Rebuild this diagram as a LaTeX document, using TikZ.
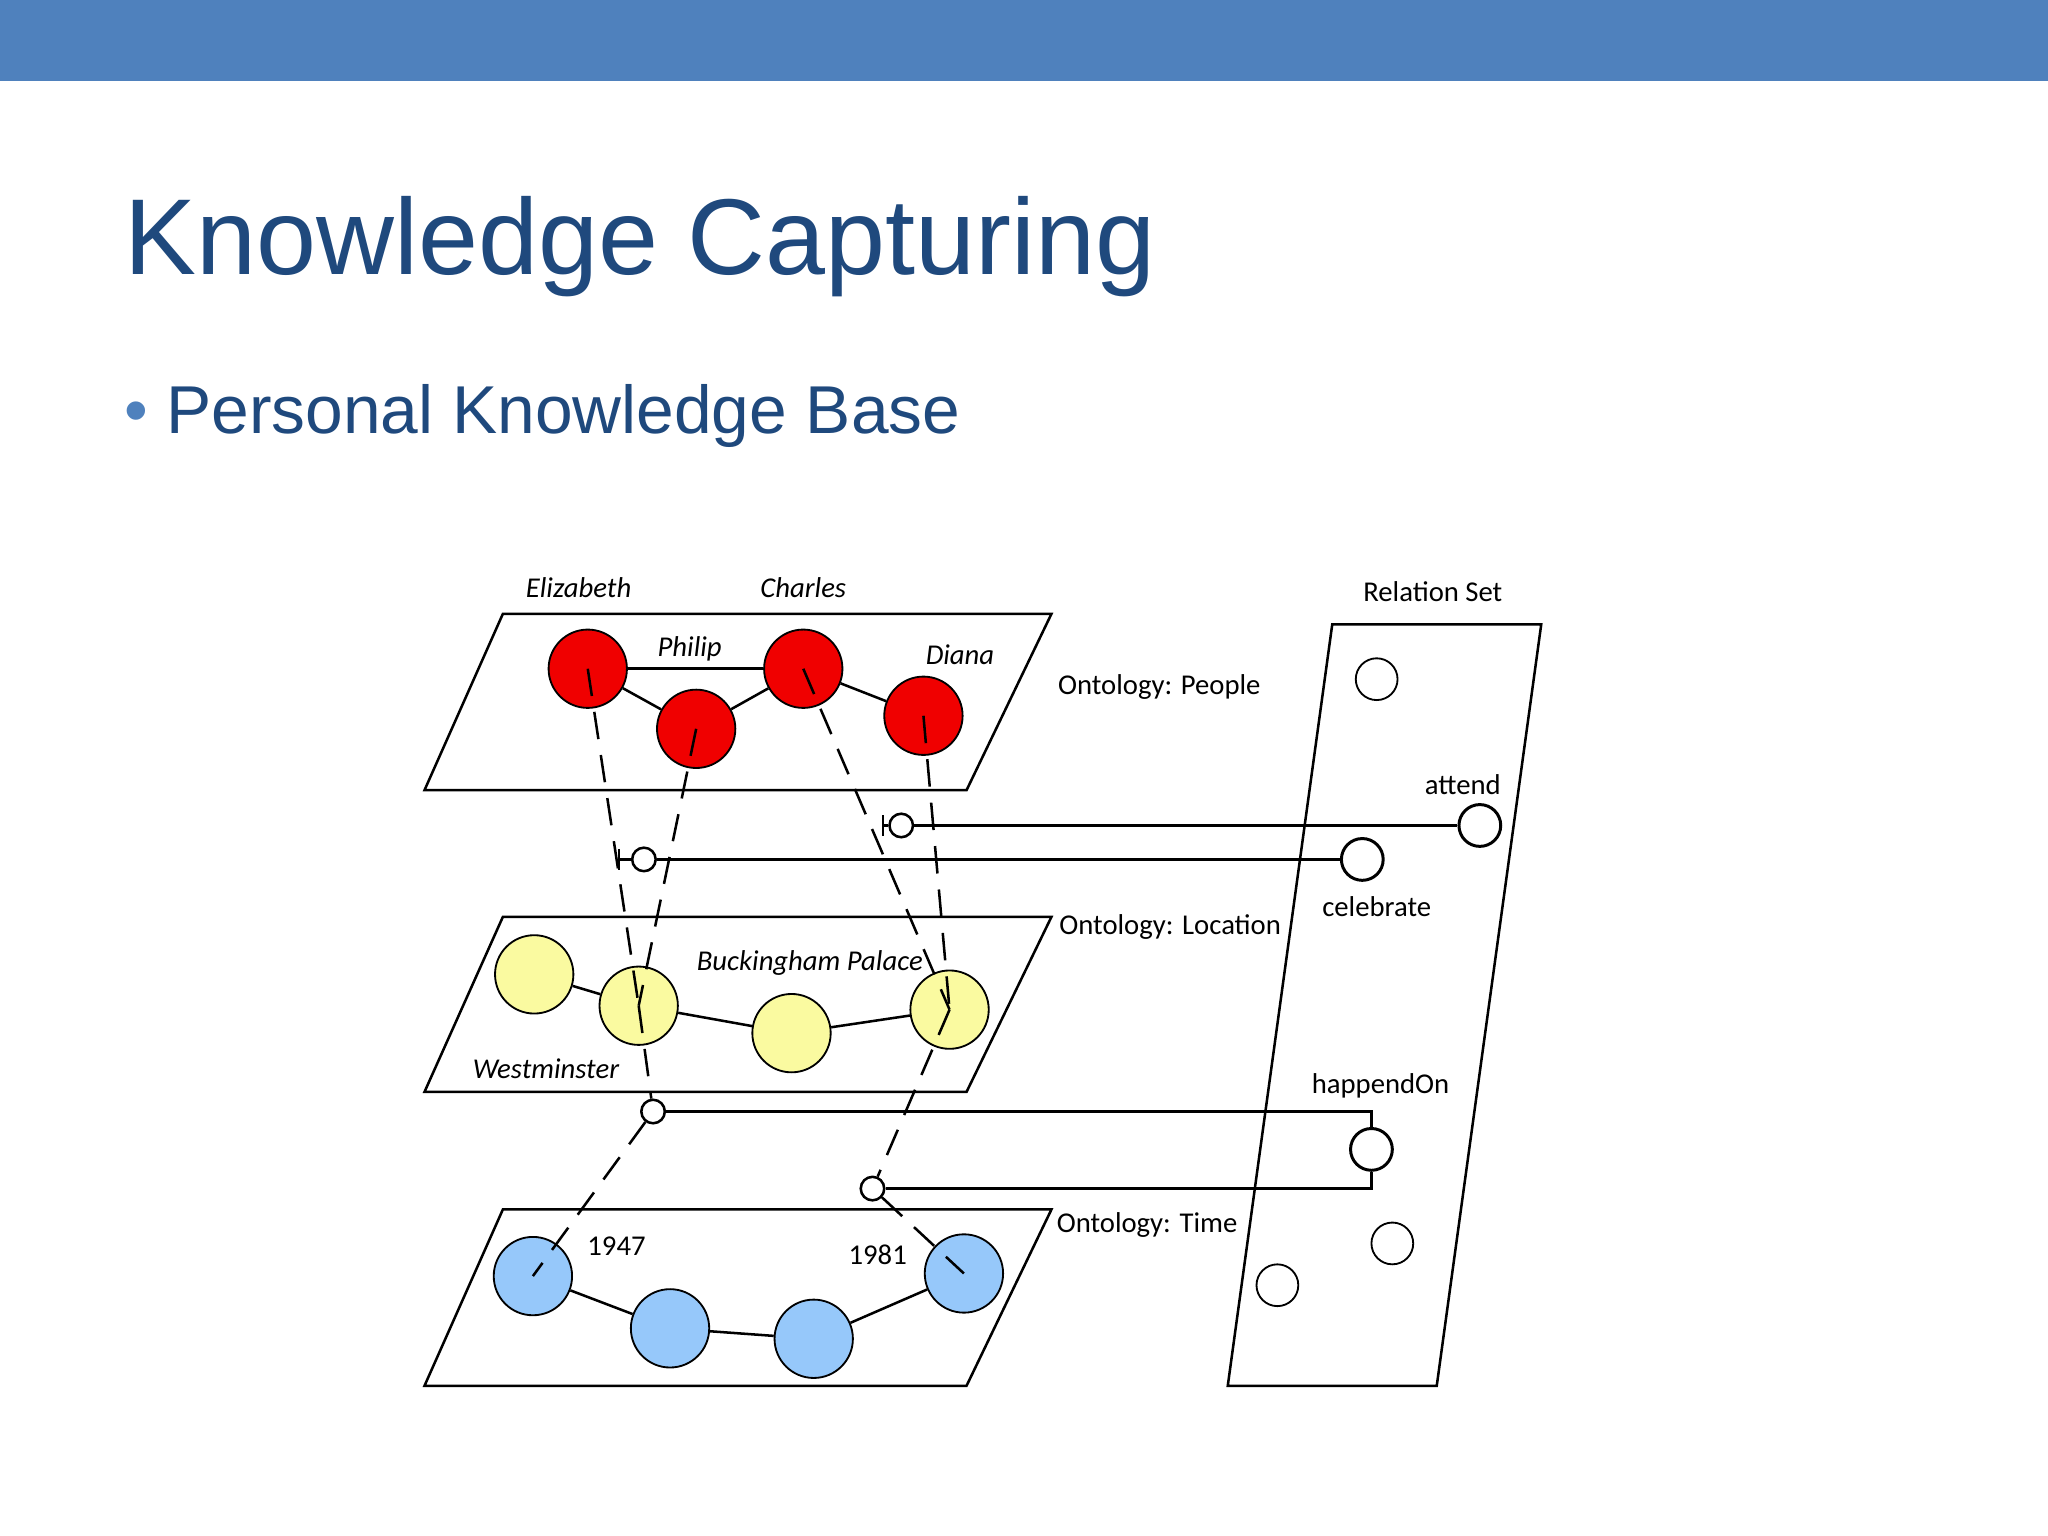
\documentclass[tikz,border=0pt]{standalone}
\usepackage{fontspec}
\setmainfont{Liberation Sans}
\newfontfamily\calib{Carlito}
\usetikzlibrary{positioning}
\definecolor{barblue}{RGB}{79,129,189}
\definecolor{titleblue}{RGB}{31,73,125}
\definecolor{peoplered}{RGB}{240,0,0}
\definecolor{placeyellow}{RGB}{250,250,160}
\definecolor{timeblue}{RGB}{150,200,250}
\tikzset{
  plane/.style={draw, line width=1.1pt},
  ent/.style={circle, draw, line width=0.8pt, minimum size=1.2cm, inner sep=0pt},
  rel/.style={circle, draw, line width=1.3pt, minimum size=0.64cm, inner sep=0pt},
  junc/.style={circle, draw, fill=white, line width=1.1pt, minimum size=0.36cm, inner sep=0pt},
  link/.style={line width=1.1pt},
  arm/.style={line width=1.1pt, dash pattern=on 12pt off 7pt},
  lbl/.style={font=\calib\fontsize{12.5}{14}\selectfont, inner sep=1pt},
  ilbl/.style={font=\calib\itshape\fontsize{12.5}{14}\selectfont, inner sep=1pt}
}
\begin{document}
\begin{tikzpicture}[x=0.02cm,y=-0.02cm]
\useasboundingbox (0,0) rectangle (1568,1176);
\fill[barblue] (0,0) rectangle (1568,62);
\node[anchor=base west, text=titleblue, font=\fontsize{47}{50}\selectfont, inner sep=0pt] (title) at (95,210) {Knowledge Capturing};
\node[anchor=base west, text=barblue, font=\fontsize{29.5}{32}\selectfont, inner sep=0pt] (dot) at (95,332) {\textbullet};
\node[anchor=base west, text=titleblue, font=\fontsize{29.5}{32}\selectfont, inner sep=0pt] (sub) at (127,332) {Personal Knowledge Base};
% planes
\draw[plane] (325,605) -- (385,470) -- (805,470) -- (740,605) -- cycle;
\draw[plane] (325,836) -- (385,702) -- (805,702) -- (740,836) -- cycle;
\draw[plane] (325,1061) -- (385,926) -- (805,926) -- (740,1061) -- cycle;
\draw[plane] (940,1061) -- (1020,478) -- (1180,478) -- (1100,1061) -- cycle;
% people
\node[ent, fill=peoplered] (eliz) at (450,512) {};
\node[ent, fill=peoplered] (phil) at (533,558) {};
\node[ent, fill=peoplered] (char) at (615,512) {};
\node[ent, fill=peoplered] (diana) at (707,548) {};
\draw[link] (eliz) -- (char);
\draw[link] (eliz) -- (phil) -- (char) -- (diana);
\node[ilbl] at (443,450) {Elizabeth};
\node[ilbl] at (615,450) {Charles};
\node[ilbl] at (528,497) {Philip};
\node[ilbl] at (735,501) {Diana};
\node[lbl, anchor=west] at (808,526) {Ontology: People};
% location
\node[ent, fill=placeyellow] (loc1) at (409,746) {};
\node[ent, fill=placeyellow] (westm) at (489,770) {};
\node[ent, fill=placeyellow] (loc3) at (606,791) {};
\node[ent, fill=placeyellow] (buck) at (727,773) {};
\draw[link] (loc1) -- (westm) -- (loc3) -- (buck);
\node[ilbl] at (620,737) {Buckingham Palace};
\node[ilbl] at (418,818) {Westminster};
\node[lbl, anchor=west] at (809,710) {Ontology: Location};
% time
\node[ent, fill=timeblue] (y1947) at (408,977) {};
\node[ent, fill=timeblue] (t2) at (513,1017) {};
\node[ent, fill=timeblue] (t3) at (623,1025) {};
\node[ent, fill=timeblue] (y1981) at (738,975) {};
\draw[link] (y1947) -- (t2) -- (t3) -- (y1981);
\node[lbl] at (472,954) {1947};
\node[lbl] at (672,961) {1981};
\node[lbl, anchor=west] at (807,938) {Ontology: Time};
% relation set
\node[lbl] at (1097,453) {Relation Set};
\node[rel, line width=0.8pt] (r1) at (1054,520) {};
\node[rel] (attend) at (1133,632) {};
\node[rel] (celeb) at (1043,658) {};
\node[rel] (happ) at (1050,880) {};
\node[rel, line width=0.8pt] (r5) at (1066,952) {};
\node[rel, line width=0.8pt] (r6) at (978,984) {};
\node[lbl] at (1120,601) {attend};
\node[lbl] at (1054,694) {celebrate};
\node[lbl] at (1057,831) {happendOn};
% junctions and arms
\coordinate (ca) at (676,632);
\coordinate (cc) at (474,658);
\node[junc] (jatt) at (690,632) {};
\node[junc] (jcel) at (493,658) {};
\node[junc] (jh1) at (500,851) {};
\node[junc] (jh2) at (668,910) {};
\draw[arm] (eliz.center) -- (westm.center);
\draw[arm] (phil.center) -- (westm.center);
\draw[arm] (char.center) -- (buck.center);
\draw[arm] (diana.center) -- (buck.center);
\draw[arm] (westm.center) -- (jh1) -- (y1947.center);
\draw[arm] (buck.center) -- (jh2) -- (y1981.center);
\draw[link] (jatt) -- (attend);
\draw[link] (jatt) -- (ca) ++(0,-8) -- ++(0,16);
\draw[link] (jcel) -- (celeb);
\draw[link] (jcel) -- (cc) ++(0,-8) -- ++(0,16);
\draw[link] (jh1) -| (happ);
\draw[link] (jh2) -| (happ);
\end{tikzpicture}
\end{document}
